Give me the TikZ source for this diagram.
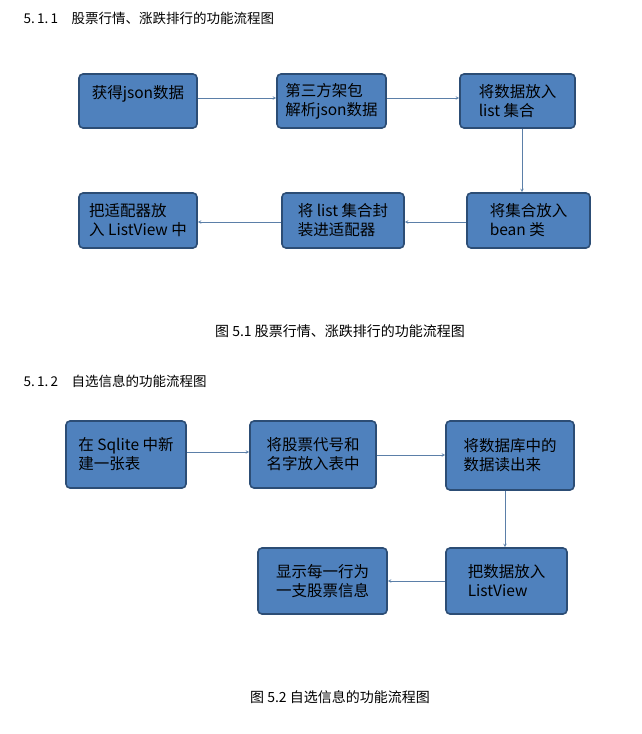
\documentclass[tikz,border=0pt]{standalone}
\usepackage{fontspec}
\setmainfont{Noto Sans CJK SC}
\usetikzlibrary{positioning}
\definecolor{boxfill}{HTML}{4F81BD}
\definecolor{boxline}{HTML}{2C4D75}
\definecolor{arrowc}{HTML}{5B7FA8}
\tikzset{
  flowbox/.style={draw=boxline, line width=1.6pt, fill=boxfill, rounded corners=4pt,
    align=left, font=\fontsize{15.5}{19}\selectfont, inner sep=2pt},
  flowarrow/.style={draw=arrowc, line width=0.6pt, -stealth}
}
\begin{document}
\begin{tikzpicture}[x=1pt,y=-1pt]
  \useasboundingbox (0,0) rectangle (641,734);
  % headings
  \node[anchor=west, font=\fontsize{13.5}{15}\selectfont] (h1) at (20,18) {5.\,1.\,1\quad 股票行情、涨跌排行的功能流程图};
  \node[anchor=west, font=\fontsize{13.5}{15}\selectfont] (h2) at (20,381) {5.\,1.\,2\quad 自选信息的功能流程图};
  % first chart
  \node[flowbox, minimum width=118pt, minimum height=54pt] (json) at (138,101) {获得json数据\\\mbox{}};
  \node[flowbox, minimum width=109pt, minimum height=54pt] (parse) at (331.5,101) {第三方架包\\解析json数据};
  \node[flowbox, minimum width=115pt, minimum height=54pt] (list) at (517.5,101) {将数据放入\\list 集合};
  \node[flowbox, minimum width=123pt, minimum height=55pt] (bean) at (528.5,220.5) {将集合放入\\bean 类};
  \node[flowbox, minimum width=122pt, minimum height=55pt] (pack) at (343,220.5) {将 list 集合封\\装进适配器};
  \node[flowbox, minimum width=118pt, minimum height=55pt] (adapt) at (138,220.5) {把适配器放\\入 ListView 中};
  \draw[flowarrow] (json.east |- 0,98) -- (parse.west |- 0,98);
  \draw[flowarrow] (parse.east |- 0,98) -- (list.west |- 0,98);
  \draw[flowarrow] (list.south -| 522,0) -- (bean.north -| 522,0);
  \draw[flowarrow] (bean.west |- 0,222) -- (pack.east |- 0,222);
  \draw[flowarrow] (pack.west |- 0,222) -- (adapt.east |- 0,222);
  \node[font=\fontsize{14}{16}\selectfont] (cap1) at (340,331) {图 5.1 股票行情、涨跌排行的功能流程图};
  % second chart
  \node[flowbox, minimum width=120pt, minimum height=67pt] (table) at (126,454.5) {在 Sqlite 中新\\建一张表};
  \node[flowbox, minimum width=126pt, minimum height=67pt] (insert) at (313,454.5) {将股票代号和\\名字放入表中};
  \node[flowbox, minimum width=128pt, minimum height=69pt] (read) at (510,455.5) {将数据库中的\\数据读出来};
  \node[flowbox, minimum width=121pt, minimum height=66pt] (load) at (506.5,581) {把数据放入\\ListView};
  \node[flowbox, minimum width=129pt, minimum height=66pt] (show) at (322.5,581) {显示每一行为\\一支股票信息};
  \draw[flowarrow] (table.east |- 0,452) -- (insert.west |- 0,452);
  \draw[flowarrow] (insert.east |- 0,455) -- (read.west |- 0,455);
  \draw[flowarrow] (read.south -| 505,0) -- (load.north -| 505,0);
  \draw[flowarrow] (load.west |- 0,581) -- (show.east |- 0,581);
  \node[font=\fontsize{14}{16}\selectfont] (cap2) at (340,697) {图 5.2 自选信息的功能流程图};
\end{tikzpicture}
\end{document}
